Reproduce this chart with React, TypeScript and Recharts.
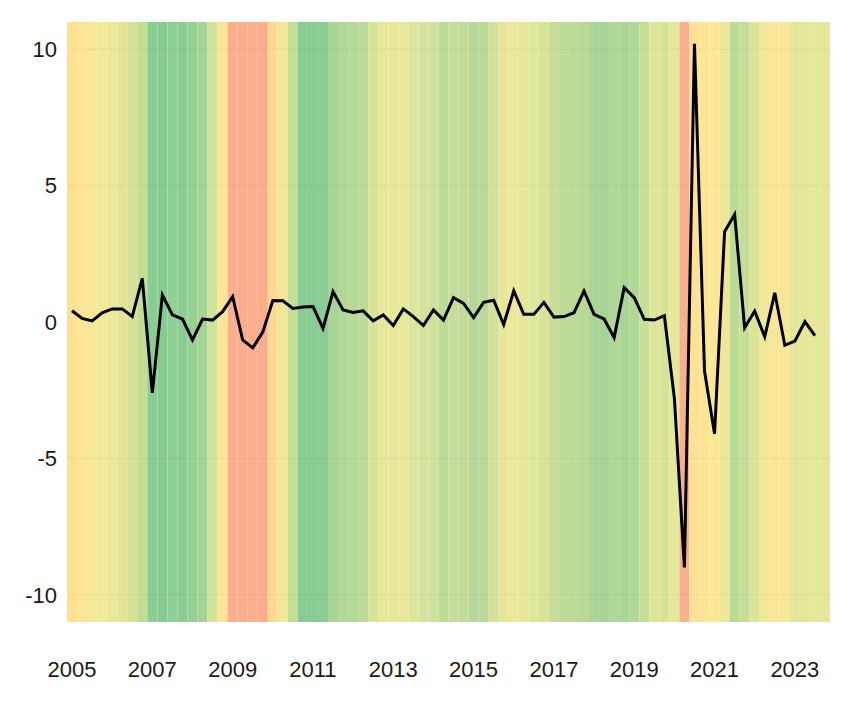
import { ComposedChart, Bar, Cell, Line, XAxis, YAxis, ReferenceLine } from "recharts";

// quarters 2005 Q1 .. 2023 Q4 (the background runs one quarter past the line)
const years = Array.from({ length: 19 }, (_, i) => 2005 + i);
const quarters = years.flatMap((y) => ["Q1", "Q2", "Q3", "Q4"].map((q) => `${y} ${q}`));

// quarterly change, 2005 Q1 .. 2023 Q3
const growth = [
  0.41, 0.13, 0.04, 0.34, 0.48, 0.48, 0.2, 1.6, -2.6, 0.99,
  0.26, 0.11, -0.66, 0.11, 0.07, 0.38, 0.93, -0.66, -0.95, -0.37,
  0.79, 0.78, 0.5, 0.55, 0.57, -0.23, 1.11, 0.44, 0.35, 0.41,
  0.04, 0.26, -0.13, 0.48, 0.2, -0.13, 0.44, 0.07, 0.89, 0.68,
  0.16, 0.72, 0.8, -0.09, 1.14, 0.28, 0.28, 0.72, 0.18, 0.2,
  0.34, 1.14, 0.28, 0.11, -0.57, 1.26, 0.89, 0.1, 0.07, 0.23,
  -2.8, -9.0, 10.2, -1.8, -4.1, 3.31, 3.94, -0.21, 0.4, -0.54,
  1.07, -0.85, -0.7, 0.01, -0.5,
];

// heat colour of each quarter's background stripe
const bandColors = [
  "#FDE193", "#FDE496", "#F7E798", "#F2E899", "#EBE799", "#E2E599", "#D6E299", "#C2DD95",
  "#8ACC93", "#86CB92", "#8FCE94", "#8BCC93", "#96D095", "#A3D496", "#D2E39A", "#FDE597",
  "#F9AF8E", "#F9AF8E", "#F9AF8E", "#F9AF8E", "#FDD993", "#F0E799", "#C4DE95", "#88CB93",
  "#88CB93", "#89CC94", "#A6D596", "#B1D897", "#B5D997", "#BDDB98", "#D8E39A", "#E6E799",
  "#E8E899", "#E7E899", "#DDE59A", "#D3E39A", "#CEE299", "#BCDB97", "#C5DD98", "#C2DC97",
  "#B5D898", "#B8DA97", "#D3E29A", "#E9E797", "#EBE898", "#E6E799", "#E0E69A", "#D8E39A",
  "#C7DE99", "#BEDB98", "#BCDB97", "#B9DA97", "#A8D597", "#A6D496", "#B0D797", "#A9D596",
  "#B0D797", "#C7DE98", "#DDE59A", "#D8E39A", "#E5E79A", "#F8B08E", "#FDE296", "#FDE596",
  "#FBE797", "#F0E698", "#BCDB97", "#C5DD98", "#DCE49A", "#EFE799", "#F9E598", "#F5E797",
  "#E3E69A", "#E4E69A", "#E6E79A", "#E6E79A",
];

const xTicks = ["2005", "2007", "2009", "2011", "2013", "2015", "2017", "2019", "2021", "2023"].map((y) => `${y} Q1`);
const yTicks = [-10, -5, 0, 5, 10];
const yDomain: [number, number] = [-11, 11];

const rows = quarters.map((q, i) => ({
  q,
  value: i < growth.length ? growth[i] : null,
  band: yDomain,
}));

const font = { fontFamily: "'Liberation Sans', Arial, sans-serif", fontSize: 22, fill: "#1a1a1a" };

export default function App() {
  return (
    <ComposedChart
      width={848}
      height={690}
      data={rows}
      margin={{ top: 14, right: 26, left: 0, bottom: 16 }}
      barCategoryGap={0}
      barGap={0}
    >
      <XAxis
        dataKey="q"
        ticks={xTicks}
        interval={0}
        tickFormatter={(v: string) => v.slice(0, 4)}
        axisLine={false}
        tickLine={false}
        tickSize={0}
        tickMargin={39}
        height={60}
        tick={font}
      />
      <YAxis
        domain={yDomain}
        ticks={yTicks}
        axisLine={false}
        tickLine={false}
        tickSize={0}
        tickMargin={10}
        width={59}
        tick={font}
      />
      <Bar dataKey="band" isAnimationActive={false}>
        {rows.map((r, i) => (
          <Cell key={r.q} fill={bandColors[i]} />
        ))}
      </Bar>
      {yTicks
        .filter((t) => t !== 0)
        .map((t) => (
          <ReferenceLine key={t} y={t} stroke="rgba(0,0,0,0.05)" strokeWidth={1} />
        ))}
      <Line
        dataKey="value"
        stroke="#000"
        strokeWidth={3}
        dot={false}
        activeDot={false}
        type="linear"
        isAnimationActive={false}
      />
    </ComposedChart>
  );
}
